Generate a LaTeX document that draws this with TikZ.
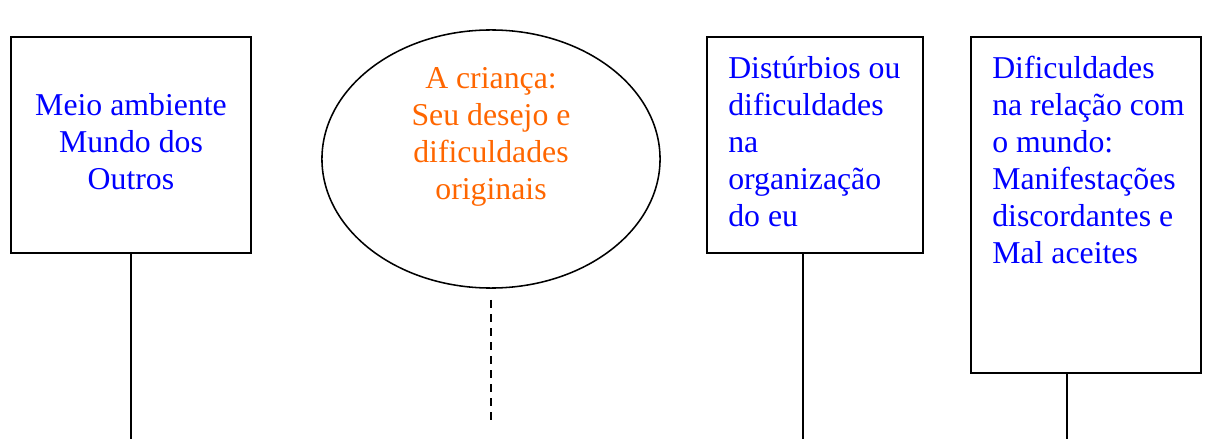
\documentclass[tikz,border=0pt]{standalone}
\usepackage{fontspec}
\setmainfont{Liberation Serif}
\usepackage{tikz}
\usetikzlibrary{shapes.geometric}
\definecolor{txtblue}{RGB}{0,0,255}
\definecolor{txtorange}{RGB}{255,102,0}
\newcommand{\bigtxt}{\fontsize{22.6}{26.3}\selectfont}
\tikzset{
  box/.style={draw,rectangle,line width=1.1pt,inner sep=0pt,outer sep=0pt},
  oval/.style={draw,ellipse,line width=1.1pt,inner sep=0pt,outer sep=0pt},
  bluetxt/.style={text=txtblue,font=\bigtxt,inner sep=0pt},
  orangetxt/.style={text=txtorange,font=\bigtxt,inner sep=0pt},
  stem/.style={line width=1.1pt},
}

\begin{document}
\begin{tikzpicture}[x=0.025cm,y=-0.025cm]
    \useasboundingbox (0,0) rectangle (1212,439);
    \node[box,minimum width=6cm,minimum height=5.4cm] (meio) at (131,145) {};
    \node[oval,minimum width=8.45cm,minimum height=6.45cm] (crianca) at (491,159) {};
    \node[box,minimum width=5.4cm,minimum height=5.4cm] (disturbios) at (815,145) {};
    \node[box,minimum width=5.75cm,minimum height=8.4cm] (relacao) at (1086,205) {};
    \node[bluetxt,align=center,anchor=north] (meiotxt) at (131,93) {Meio ambiente\\Mundo dos\\Outros};
    \node[orangetxt,align=center,anchor=north] (criancatxt) at (491,67) {A criança:\\Seu desejo e\\dificuldades\\originais};
    \node[bluetxt,align=left,anchor=north west] (disturbiostxt) at (728,56) {Distúrbios ou\\dificuldades\\na\\organização\\do eu};
    \node[bluetxt,align=left,anchor=north west] (relacaotxt) at (992,56) {Dificuldades\\na relação com\\o mundo:\\Manifestações\\discordantes e\\Mal aceites};
    \coordinate (meiob) at (131,439);
    \coordinate (criancat) at (491,300);
    \coordinate (criancab) at (491,421);
    \coordinate (disturbiosb) at (803,439);
    \coordinate (relacaob) at (1067,439);
    \draw[stem] (131,253) -- (meiob);
    \draw[stem,dash pattern=on 5.5pt off 4.5pt] (criancat) -- (criancab);
    \draw[stem] (disturbios.south -| disturbiosb) -- (disturbiosb);
    \draw[stem] (relacao.south -| relacaob) -- (relacaob);
  \end{tikzpicture}
\end{document}
